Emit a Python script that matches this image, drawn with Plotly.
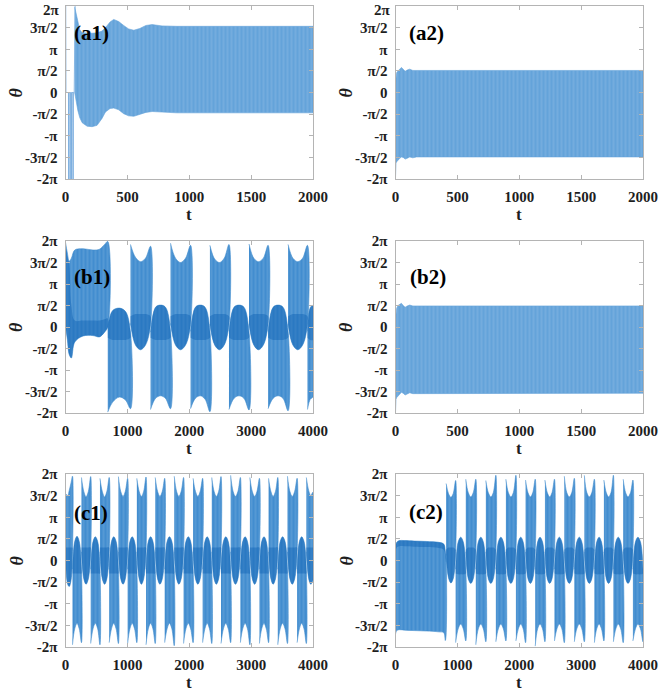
import numpy as np
import plotly.graph_objects as go

PI = np.pi

# ---------------- data (theta values in units of pi) ----------------
# (a1) initial transient (thin line)
A1_INIT_T = [0, 2, 4, 24, 26, 28, 36, 38, 40, 48, 50, 52, 60, 62, 64, 70, 72, 74, 78]
A1_INIT_Y = [2.0, 2.0, 0.0, 0.0, -2.0, 0.0, 0.0, -2.0, 0.0, 0.0, -2.0, 0.0, 0.0, -2.0, 0.0, 0.0, 2.0, 1.2, 2.0]
# (a1) oscillation envelope
A1_T = [74, 85, 100, 115, 135, 175, 215, 255, 295, 323, 360, 390, 430, 470, 510, 552, 600, 650, 700, 780, 900, 2000]
A1_UP = [1.98, 1.85, 1.62, 1.45, 1.38, 1.37, 1.37, 1.38, 1.42, 1.5, 1.63, 1.69, 1.64, 1.55, 1.47, 1.44, 1.48, 1.55, 1.57, 1.54, 1.53, 1.53]
A1_LO = [0.0, -0.2, -0.42, -0.58, -0.7, -0.78, -0.79, -0.76, -0.6, -0.45, -0.37, -0.36, -0.4, -0.49, -0.54, -0.55, -0.51, -0.46, -0.44, -0.46, -0.47, -0.47]

# (a2)
A2_T = [0, 4, 10, 20, 35, 48, 62, 78, 95, 115, 140, 170, 210, 2000]
A2_UP = [0.24, 0.38, 0.46, 0.5, 0.55, 0.58, 0.54, 0.49, 0.52, 0.54, 0.51, 0.51, 0.51, 0.51]
A2_LO = [-1.96, -1.63, -1.6, -1.56, -1.52, -1.49, -1.5, -1.54, -1.52, -1.49, -1.51, -1.49, -1.49, -1.49]

# (b2)
B2_T = [0, 4, 10, 20, 35, 48, 62, 78, 95, 115, 140, 170, 210, 2000]
B2_UP = [0.2, 0.36, 0.44, 0.5, 0.53, 0.55, 0.5, 0.46, 0.49, 0.51, 0.49, 0.49, 0.49, 0.49]
B2_LO = [-1.98, -1.68, -1.64, -1.6, -1.56, -1.52, -1.54, -1.58, -1.55, -1.53, -1.55, -1.54, -1.54, -1.54]

# (b1) segments separated by None
B1_T = [0, 30, 60, 95, 150, 283, 444, 550, 631, 683, None,
        683, 760, 870, 970, 1050, None,
        1050, 1131, 1212, 1293, 1374, None,
        1374, 1455, 1536, 1616, 1697, None,
        1697, 1778, 1859, 1940, 2021, None,
        2021, 2099, 2178, 2256, 2334, None,
        2334, 2411, 2488, 2565, 2642, None,
        2642, 2723, 2804, 2885, 2966, None,
        2966, 3043, 3120, 3197, 3274, None,
        3274, 3355, 3436, 3516, 3597, None,
        3597, 3675, 3754, 3832, 3910, None,
        3910, 3955, 4000]
B1_UP = [1.97, 1.72, 1.53, 1.6, 1.79, 1.82, 1.79, 1.81, 1.92, 1.99, None,
         0.0, 0.38, 0.44, 0.36, -0.12, None,
         1.92, 1.62, 1.52, 1.6, 1.88, None,
         -0.12, 0.46, 0.51, 0.46, -0.1, None,
         1.95, 1.6, 1.5, 1.6, 1.9, None,
         -0.1, 0.46, 0.51, 0.46, -0.1, None,
         1.9, 1.58, 1.5, 1.6, 1.92, None,
         -0.1, 0.46, 0.51, 0.46, -0.12, None,
         1.93, 1.6, 1.52, 1.6, 1.9, None,
         -0.1, 0.46, 0.51, 0.46, -0.1, None,
         1.92, 1.6, 1.52, 1.6, 1.9, None,
         -0.1, 0.45, 0.5]
B1_LO = [0.02, -0.29, -0.64, -0.72, -0.35, -0.21, -0.2, -0.23, -0.12, 0.0, None,
         -1.98, -1.75, -1.63, -1.7, -1.9, None,
         0.08, -0.42, -0.53, -0.42, 0.05, None,
         -1.92, -1.66, -1.6, -1.66, -1.9, None,
         0.08, -0.42, -0.53, -0.42, 0.06, None,
         -1.9, -1.66, -1.6, -1.68, -1.97, None,
         0.06, -0.42, -0.53, -0.42, 0.06, None,
         -1.92, -1.66, -1.6, -1.66, -1.93, None,
         0.06, -0.42, -0.53, -0.42, 0.06, None,
         -1.9, -1.66, -1.6, -1.66, -1.95, None,
         0.06, -0.42, -0.53, -0.42, 0.06, None,
         -1.92, -1.68, -1.62]
B1_DK_HI = [1.9, 1.65, 1.45, 0.5, 0.15, 0.15, 0.15, 0.15, 0.18, 0.2, None,
            0.0, 0.38, 0.44, 0.36, -0.12, None,
            0.25, 0.3, 0.3, 0.3, 0.25, None,
            -0.12, 0.46, 0.51, 0.46, -0.1, None,
            0.25, 0.3, 0.3, 0.3, 0.25, None,
            -0.1, 0.46, 0.51, 0.46, -0.1, None,
            0.25, 0.3, 0.3, 0.3, 0.25, None,
            -0.1, 0.46, 0.51, 0.46, -0.12, None,
            0.25, 0.3, 0.3, 0.3, 0.25, None,
            -0.1, 0.46, 0.51, 0.46, -0.1, None,
            0.25, 0.3, 0.3, 0.3, 0.25, None,
            -0.1, 0.45, 0.5]
B1_DK_LO = [0.02, -0.29, -0.64, -0.72, -0.35, -0.21, -0.2, -0.23, -0.12, 0.0, None,
            -0.25, -0.3, -0.3, -0.3, -0.25, None,
            0.08, -0.42, -0.53, -0.42, 0.05, None,
            -0.25, -0.3, -0.3, -0.3, -0.25, None,
            0.08, -0.42, -0.53, -0.42, 0.06, None,
            -0.25, -0.3, -0.3, -0.3, -0.25, None,
            0.06, -0.42, -0.53, -0.42, 0.06, None,
            -0.25, -0.3, -0.3, -0.3, -0.25, None,
            0.06, -0.42, -0.53, -0.42, 0.06, None,
            -0.25, -0.3, -0.3, -0.3, -0.25, None,
            0.06, -0.42, -0.53, -0.42, 0.06, None,
            -0.25, -0.3, -0.3]

# (c1)
C1_T = [0, 35, 60, 90, 113, None,
        113, 149, 186, 222, 258, None,
        258, 295, 332, 370, 407, None,
        407, 445, 482, 520, 557, None,
        557, 594, 632, 669, 706, None,
        706, 743, 780, 818, 855, None,
        855, 892, 930, 967, 1004, None,
        1004, 1041, 1078, 1116, 1153, None,
        1153, 1190, 1227, 1264, 1301, None,
        1301, 1338, 1376, 1413, 1450, None,
        1450, 1488, 1526, 1565, 1603, None,
        1603, 1642, 1680, 1719, 1757, None,
        1757, 1795, 1832, 1870, 1908, None,
        1908, 1946, 1985, 2023, 2062, None,
        2062, 2100, 2139, 2177, 2216, None,
        2216, 2253, 2290, 2327, 2364, None,
        2364, 2401, 2438, 2476, 2513, None,
        2513, 2552, 2591, 2630, 2669, None,
        2669, 2708, 2747, 2787, 2826, None,
        2826, 2864, 2903, 2941, 2980, None,
        2980, 3018, 3057, 3095, 3134, None,
        3134, 3171, 3208, 3245, 3282, None,
        3282, 3319, 3356, 3394, 3431, None,
        3431, 3470, 3509, 3548, 3587, None,
        3587, 3626, 3665, 3704, 3743, None,
        3743, 3780, 3817, 3855, 3892, None,
        3892, 3930, 3964, 3985, 4000]
C1_UP = [1.55, 1.5, 1.62, 1.8, 1.95, None,
         -0.2, 0.44, 0.56, 0.44, -0.2, None,
         1.92, 1.6, 1.47, 1.6, 1.94, None,
         -0.2, 0.44, 0.55, 0.44, -0.2, None,
         1.9, 1.6, 1.47, 1.6, 1.92, None,
         -0.2, 0.44, 0.55, 0.44, -0.2, None,
         1.94, 1.6, 1.48, 1.6, 1.9, None,
         -0.2, 0.44, 0.55, 0.44, -0.2, None,
         1.9, 1.6, 1.48, 1.6, 1.93, None,
         -0.2, 0.44, 0.55, 0.44, -0.2, None,
         1.92, 1.6, 1.48, 1.6, 1.9, None,
         -0.2, 0.44, 0.55, 0.44, -0.2, None,
         1.95, 1.6, 1.48, 1.6, 1.92, None,
         -0.2, 0.44, 0.55, 0.44, -0.2, None,
         1.9, 1.6, 1.48, 1.6, 1.9, None,
         -0.2, 0.44, 0.55, 0.44, -0.2, None,
         1.92, 1.6, 1.48, 1.6, 1.94, None,
         -0.2, 0.44, 0.55, 0.44, -0.2, None,
         1.97, 1.6, 1.48, 1.6, 1.92, None,
         -0.2, 0.44, 0.55, 0.44, -0.2, None,
         1.92, 1.6, 1.48, 1.6, 1.9, None,
         -0.2, 0.44, 0.55, 0.44, -0.2, None,
         1.9, 1.6, 1.48, 1.6, 1.92, None,
         -0.2, 0.44, 0.55, 0.44, -0.2, None,
         1.95, 1.6, 1.48, 1.6, 1.9, None,
         -0.2, 0.44, 0.55, 0.44, -0.2, None,
         1.92, 1.62, 1.5, 1.55, 1.58]
C1_LO = [0.1, -0.55, -0.6, -0.45, 0.2, None,
         -1.95, -1.58, -1.45, -1.58, -1.9, None,
         0.2, -0.42, -0.55, -0.42, 0.2, None,
         -1.92, -1.58, -1.45, -1.58, -1.95, None,
         0.2, -0.42, -0.55, -0.42, 0.2, None,
         -1.9, -1.58, -1.45, -1.58, -1.92, None,
         0.2, -0.42, -0.55, -0.42, 0.2, None,
         -1.92, -1.58, -1.45, -1.58, -1.9, None,
         0.2, -0.42, -0.55, -0.42, 0.2, None,
         -1.95, -1.58, -1.45, -1.58, -1.92, None,
         0.2, -0.42, -0.55, -0.42, 0.2, None,
         -1.9, -1.58, -1.45, -1.58, -1.97, None,
         0.2, -0.42, -0.55, -0.42, 0.2, None,
         -1.92, -1.58, -1.45, -1.58, -1.9, None,
         0.2, -0.42, -0.55, -0.42, 0.2, None,
         -1.9, -1.58, -1.45, -1.58, -1.92, None,
         0.2, -0.42, -0.55, -0.42, 0.2, None,
         -1.92, -1.58, -1.45, -1.58, -1.9, None,
         0.2, -0.42, -0.55, -0.42, 0.2, None,
         -1.9, -1.58, -1.45, -1.58, -1.95, None,
         0.2, -0.42, -0.55, -0.42, 0.2, None,
         -1.92, -1.58, -1.45, -1.58, -1.9, None,
         0.2, -0.42, -0.55, -0.42, 0.2, None,
         -1.95, -1.58, -1.45, -1.58, -1.92, None,
         0.2, -0.42, -0.55, -0.42, 0.2, None,
         -1.9, -1.58, -1.45, -1.58, -1.92, None,
         0.2, -0.42, -0.55, -0.5, -0.45]

# (c2)
C2_T = [0, 20, 60, 150, 300, 500, 700, 780, 805, 818, None,
        818, 856, 895, 933, 972, None,
        972, 1013, 1054, 1095, 1136, None,
        1136, 1176, 1217, 1257, 1298, None,
        1298, 1338, 1379, 1419, 1460, None,
        1460, 1500, 1541, 1581, 1622, None,
        1622, 1662, 1703, 1743, 1784, None,
        1784, 1824, 1865, 1905, 1946, None,
        1946, 1985, 2024, 2063, 2102, None,
        2102, 2141, 2180, 2219, 2258, None,
        2258, 2297, 2336, 2376, 2415, None,
        2415, 2453, 2492, 2530, 2569, None,
        2569, 2609, 2648, 2688, 2728, None,
        2728, 2768, 2809, 2849, 2890, None,
        2890, 2930, 2971, 3011, 3052, None,
        3052, 3092, 3133, 3173, 3214, None,
        3214, 3252, 3291, 3329, 3368, None,
        3368, 3406, 3444, 3483, 3521, None,
        3521, 3561, 3600, 3640, 3680, None,
        3680, 3719, 3758, 3798, 3837, None,
        3837, 3878, 3918, 3959, 4000]
C2_UP = [0.27, 0.42, 0.46, 0.46, 0.45, 0.44, 0.42, 0.38, 0.22, 0.05, None,
         1.78, 1.55, 1.46, 1.55, 1.85, None,
         -0.2, 0.43, 0.54, 0.43, -0.2, None,
         1.88, 1.57, 1.47, 1.57, 1.88, None,
         -0.2, 0.43, 0.54, 0.43, -0.2, None,
         1.85, 1.57, 1.47, 1.57, 1.97, None,
         -0.2, 0.43, 0.54, 0.43, -0.2, None,
         1.88, 1.57, 1.47, 1.57, 1.97, None,
         -0.2, 0.43, 0.54, 0.43, -0.2, None,
         1.86, 1.57, 1.47, 1.57, 1.88, None,
         -0.2, 0.43, 0.54, 0.43, -0.2, None,
         1.86, 1.57, 1.47, 1.57, 1.88, None,
         -0.2, 0.43, 0.54, 0.43, -0.2, None,
         1.95, 1.57, 1.47, 1.57, 1.9, None,
         -0.2, 0.43, 0.54, 0.43, -0.2, None,
         1.97, 1.57, 1.47, 1.57, 1.88, None,
         -0.2, 0.43, 0.54, 0.43, -0.2, None,
         1.86, 1.57, 1.47, 1.57, 1.97, None,
         -0.2, 0.43, 0.54, 0.43, -0.2, None,
         1.88, 1.57, 1.47, 1.57, 1.86, None,
         -0.2, 0.43, 0.54, 0.43, -0.2]
C2_LO = [-1.7, -1.62, -1.6, -1.61, -1.62, -1.63, -1.65, -1.67, -1.85, -1.72, None,
         0.15, -0.4, -0.52, -0.42, 0.2, None,
         -1.9, -1.58, -1.47, -1.58, -1.86, None,
         0.2, -0.42, -0.53, -0.42, 0.2, None,
         -1.95, -1.58, -1.47, -1.58, -1.88, None,
         0.2, -0.42, -0.53, -0.42, 0.2, None,
         -1.88, -1.58, -1.47, -1.58, -1.86, None,
         0.2, -0.42, -0.53, -0.42, 0.2, None,
         -1.86, -1.58, -1.47, -1.58, -1.9, None,
         0.2, -0.42, -0.53, -0.42, 0.2, None,
         -1.98, -1.58, -1.47, -1.58, -1.88, None,
         0.2, -0.42, -0.53, -0.42, 0.2, None,
         -1.86, -1.58, -1.47, -1.58, -1.9, None,
         0.2, -0.42, -0.53, -0.42, 0.2, None,
         -1.88, -1.58, -1.47, -1.58, -1.88, None,
         0.2, -0.42, -0.53, -0.42, 0.2, None,
         -1.9, -1.58, -1.47, -1.58, -1.86, None,
         0.2, -0.42, -0.53, -0.42, 0.2, None,
         -1.88, -1.58, -1.47, -1.58, -1.9, None,
         0.2, -0.42, -0.53, -0.42, 0.2, None,
         -1.86, -1.58, -1.47, -1.58, -1.88]
C2_DK_HI = [0.27, 0.42, 0.46, 0.46, 0.45, 0.44, 0.42, 0.38, 0.22, 0.05, None,
            0.25, 0.3, 0.3, 0.3, 0.25, None,
            -0.2, 0.43, 0.54, 0.43, -0.2, None,
            0.25, 0.3, 0.3, 0.3, 0.25, None,
            -0.2, 0.43, 0.54, 0.43, -0.2, None,
            0.25, 0.3, 0.3, 0.3, 0.25, None,
            -0.2, 0.43, 0.54, 0.43, -0.2, None,
            0.25, 0.3, 0.3, 0.3, 0.25, None,
            -0.2, 0.43, 0.54, 0.43, -0.2, None,
            0.25, 0.3, 0.3, 0.3, 0.25, None,
            -0.2, 0.43, 0.54, 0.43, -0.2, None,
            0.25, 0.3, 0.3, 0.3, 0.25, None,
            -0.2, 0.43, 0.54, 0.43, -0.2, None,
            0.25, 0.3, 0.3, 0.3, 0.25, None,
            -0.2, 0.43, 0.54, 0.43, -0.2, None,
            0.25, 0.3, 0.3, 0.3, 0.25, None,
            -0.2, 0.43, 0.54, 0.43, -0.2, None,
            0.25, 0.3, 0.3, 0.3, 0.25, None,
            -0.2, 0.43, 0.54, 0.43, -0.2, None,
            0.25, 0.3, 0.3, 0.3, 0.25, None,
            -0.2, 0.43, 0.54, 0.43, -0.2]
C2_DK_LO = [0.15, 0.3, 0.33, 0.33, 0.32, 0.31, 0.29, 0.25, 0.1, -0.05, None,
            0.15, -0.4, -0.52, -0.42, 0.2, None,
            -0.3, -0.32, -0.32, -0.32, -0.3, None,
            0.2, -0.42, -0.53, -0.42, 0.2, None,
            -0.3, -0.32, -0.32, -0.32, -0.3, None,
            0.2, -0.42, -0.53, -0.42, 0.2, None,
            -0.3, -0.32, -0.32, -0.32, -0.3, None,
            0.2, -0.42, -0.53, -0.42, 0.2, None,
            -0.3, -0.32, -0.32, -0.32, -0.3, None,
            0.2, -0.42, -0.53, -0.42, 0.2, None,
            -0.3, -0.32, -0.32, -0.32, -0.3, None,
            0.2, -0.42, -0.53, -0.42, 0.2, None,
            -0.3, -0.32, -0.32, -0.32, -0.3, None,
            0.2, -0.42, -0.53, -0.42, 0.2, None,
            -0.3, -0.32, -0.32, -0.32, -0.3, None,
            0.2, -0.42, -0.53, -0.42, 0.2, None,
            -0.3, -0.32, -0.32, -0.32, -0.3, None,
            0.2, -0.42, -0.53, -0.42, 0.2, None,
            -0.3, -0.32, -0.32, -0.32, -0.3, None,
            0.2, -0.42, -0.53, -0.42, 0.2, None,
            -0.3, -0.32, -0.32, -0.32, -0.3]

Y_TICK_VALS = [-2, -1.5, -1, -0.5, 0, 0.5, 1, 1.5, 2]
Y_TICK_TEXT = ["-2π", "-3π/2", "-π", "-π/2", "0", "π/2", "π", "3π/2", "2π"]
X_TICKS_2000 = [0, 500, 1000, 1500, 2000]
X_TICKS_4000 = [0, 1000, 2000, 3000, 4000]
PANEL_LABELS = ["(a1)", "(a2)", "(b1)", "(b2)", "(c1)", "(c2)"]

# ---------------- helpers ----------------
def polygons(t, hi, lo):
    """Build closed polygons (one per None-separated segment) in radians."""
    xs, ys = [], []
    seg_t, seg_h, seg_l = [], [], []

    def flush():
        if seg_t:
            xs.extend(seg_t + seg_t[::-1] + [None])
            ys.extend([v * PI for v in seg_h] + [v * PI for v in seg_l[::-1]] + [None])

    for ti, h, l in zip(t, hi, lo):
        if ti is None:
            flush()
            seg_t, seg_h, seg_l = [], [], []
        else:
            seg_t.append(ti); seg_h.append(h); seg_l.append(l)
    flush()
    return xs, ys


LIGHT = "rgb(100,163,218)"
MID = "rgb(66,141,207)"
DARK = "rgba(10,92,176,0.42)"

fig = go.Figure()

def add_fill(t, hi, lo, color, ax, shape="linear", streaks=True, line=True):
    xs, ys = polygons(t, hi, lo)
    kw = {}
    if streaks:
        kw["fillpattern"] = dict(shape="|", bgcolor=color, fgcolor="rgba(255,255,255,0.55)",
                                 size=4, solidity=0.18)
    fig.add_trace(go.Scatter(
        x=xs, y=ys, mode="lines", fill="toself", fillcolor=color,
        line=dict(color=color, width=0.6 if line else 0, shape=shape, smoothing=1.0),
        hoverinfo="skip", showlegend=False,
        xaxis="x" if ax == 1 else f"x{ax}", yaxis="y" if ax == 1 else f"y{ax}", **kw))

# (a1)
fig.add_trace(go.Scatter(x=A1_INIT_T, y=[v * PI for v in A1_INIT_Y], mode="lines",
                         line=dict(color="rgba(70,140,210,0.55)", width=1),
                         hoverinfo="skip", showlegend=False, xaxis="x", yaxis="y"))
add_fill(A1_T, A1_UP, A1_LO, LIGHT, 1)
# (a2)
add_fill(A2_T, A2_UP, A2_LO, LIGHT, 2)
# (b1)
add_fill(B1_T, B1_UP, B1_LO, MID, 3, shape="spline")
add_fill(B1_T, B1_DK_HI, B1_DK_LO, DARK, 3, shape="spline", streaks=False, line=False)
# (b2)
add_fill(B2_T, B2_UP, B2_LO, LIGHT, 4)
# (c1)
add_fill(C1_T, C1_UP, C1_LO, MID, 5, shape="spline")
C1_DK_HI = [(h if h is None or h < 1.0 else 0.3) for h in C1_UP]
C1_DK_LO = [(l if l is None or l > -1.0 else -0.3) for l in C1_LO]
add_fill(C1_T, C1_DK_HI, C1_DK_LO, DARK, 5, shape="spline", streaks=False, line=False)
# (c2)
add_fill(C2_T, C2_UP, C2_LO, MID, 6, shape="spline")
add_fill(C2_T, C2_DK_HI, C2_DK_LO, DARK, 6, shape="spline", streaks=False, line=False)

# ---------------- layout ----------------
W, H = 661, 692
col_px = [(65.5, 313.0), (395.5, 643.0)]
row_px = [(6.0, 179.0), (241.0, 413.0), (474.0, 647.0)]

FONT = "Liberation Serif, Times New Roman, serif"
AXC = "#b4b4b4"
TXT = "#1e1e1e"
TICKFONT = dict(family=FONT, size=15, color=TXT, weight="bold")

layout = dict(width=W, height=H, margin=dict(l=0, r=0, t=0, b=0, autoexpand=False),
              paper_bgcolor="white", plot_bgcolor="white", showlegend=False,
              font=dict(family=FONT, color=TXT))
annotations = []
label_pos = [(0.027, 0.844), (0.046, 0.844), (0.027, 0.792), (0.05, 0.792), (0.027, 0.775), (0.046, 0.78)]
for i in range(6):
    r, c = divmod(i, 2)
    ax = i + 1
    sfx = "" if ax == 1 else str(ax)
    x0, x1 = col_px[c]
    y0, y1 = row_px[r]
    xmax = 2000 if i in (0, 1, 3) else 4000
    xt = X_TICKS_2000 if xmax == 2000 else X_TICKS_4000
    ytext = list(Y_TICK_TEXT)
    if r == 0:
        # top label of the first row is placed as an annotation so it stays inside the page
        ytext[-1] = ""
        annotations.append(dict(text=Y_TICK_TEXT[-1], xref="paper", yref="paper",
                                x=(x0 - 3) / W, y=1.0, xanchor="right", yanchor="top",
                                showarrow=False, font=TICKFONT))
    layout[f"xaxis{sfx}"] = dict(
        domain=[x0 / W, x1 / W], range=[0, xmax], anchor=f"y{sfx}", automargin=False,
        tickvals=xt, ticktext=[str(v) for v in xt],
        ticks="inside", ticklen=4, tickwidth=1, tickcolor=AXC,
        showline=True, linecolor=AXC, linewidth=1, mirror="ticks",
        showgrid=False, zeroline=False, ticklabelstandoff=4, ticklabeloverflow="allow",
        tickfont=TICKFONT)
    layout[f"yaxis{sfx}"] = dict(
        domain=[1 - y1 / H, 1 - y0 / H], range=[-2 * PI, 2 * PI], anchor=f"x{sfx}", automargin=False,
        tickvals=[v * PI for v in Y_TICK_VALS], ticktext=ytext,
        ticks="inside", ticklen=4, tickwidth=1, tickcolor=AXC,
        showline=True, linecolor=AXC, linewidth=1, mirror="ticks",
        showgrid=False, zeroline=False, ticklabelstandoff=4, ticklabeloverflow="allow",
        tickfont=TICKFONT)
    lx, ly = label_pos[i]
    annotations.append(dict(text=PANEL_LABELS[i], xref=f"x{sfx} domain", yref=f"y{sfx} domain",
                            x=lx, y=ly, xanchor="left", yanchor="middle", showarrow=False,
                            font=dict(family=FONT, size=21, color="black", weight="bold")))
    annotations.append(dict(text="t", xref="paper", yref="paper",
                            x=(x0 + x1) / 2 / W, y=1 - (y1 + 35.5) / H,
                            xanchor="center", yanchor="middle", showarrow=False,
                            font=dict(family=FONT, size=17, color=TXT, weight="bold")))
    annotations.append(dict(text="<i>θ</i>", xref="paper", yref="paper",
                            x=(16 if c == 0 else 346) / W, y=1 - (y0 + y1) / 2 / H,
                            xanchor="center", yanchor="middle", showarrow=False, textangle=-90,
                            font=dict(family=FONT, size=18, color=TXT, weight="bold")))

layout["annotations"] = annotations
fig.update_layout(**layout)
fig.write_html("out.html", config={"displayModeBar": False},
               post_script="document.body.style.margin='0';document.body.style.padding='0';"
                           "document.documentElement.style.overflow='hidden';")
